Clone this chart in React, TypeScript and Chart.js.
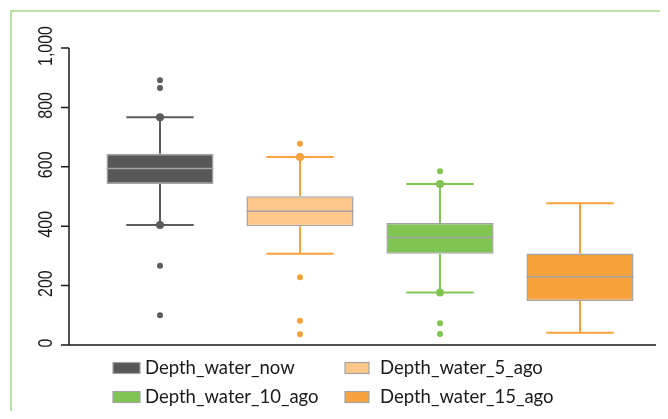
import React, { useEffect, useRef } from "react";
import { Chart, registerables } from "chart.js";
Chart.register(...registerables);

const categories = ["Depth_water_now", "Depth_water_5_ago", "Depth_water_10_ago", "Depth_water_15_ago"];
const q1 = [542, 400, 307, 148];
const median = [594, 450, 362, 230];
const q3 = [644, 501, 411, 308];
const whiskerLow = [404, 307, 177, 41];
const whiskerHigh = [767, 633, 542, 477];
const whiskerDots = [[767, 404], [633], [542, 177], []];
const outliers = [[891, 865, 267, 100], [678, 228, 82, 36], [585, 73, 37], []];
const yTicks = [0, 200, 400, 600, 800, 1000];
const yTickLabels = ["0", "200", "400", "600", "800", "1,000"];

const boxFill = ["#58585a", "#fdc68a", "#80c452", "#f7a23c"];
const lineColor = ["#5c5c5e", "#f7a23c", "#80c452", "#f7a23c"];
const boxBorder = "#a4a4a4";

const pointData: { x: string; y: number }[] = [];
const pointRadius: number[] = [];
const pointColor: string[] = [];
categories.forEach((c, i) => {
  whiskerDots[i].forEach((v) => {
    pointData.push({ x: c, y: v });
    pointRadius.push(4);
    pointColor.push(lineColor[i]);
  });
  outliers[i].forEach((v) => {
    pointData.push({ x: c, y: v });
    pointRadius.push(3);
    pointColor.push(lineColor[i]);
  });
});

const extras = {
  id: "boxExtras",
  beforeDraw(chart: any) {
    const ctx = chart.ctx;
    ctx.save();
    ctx.strokeStyle = "#a3d98a";
    ctx.lineWidth = 1.5;
    ctx.strokeRect(11, 11, 800, 600);
    ctx.restore();
  },
  beforeDatasetsDraw(chart: any) {
    const ctx = chart.ctx;
    const xs = chart.scales.x;
    const ys = chart.scales.y;
    const meta = chart.getDatasetMeta(0);
    ctx.save();
    categories.forEach((c, i) => {
      const x = xs.getPixelForValue(i);
      const bw = meta.data[i].width;
      const cap = bw * 0.63;
      ctx.strokeStyle = lineColor[i];
      ctx.lineWidth = 2;
      ctx.beginPath();
      ctx.moveTo(x, ys.getPixelForValue(whiskerLow[i]));
      ctx.lineTo(x, ys.getPixelForValue(q1[i]));
      ctx.moveTo(x, ys.getPixelForValue(q3[i]));
      ctx.lineTo(x, ys.getPixelForValue(whiskerHigh[i]));
      const yl = ys.getPixelForValue(whiskerLow[i]);
      const yh = ys.getPixelForValue(whiskerHigh[i]);
      ctx.moveTo(x - cap / 2, yl);
      ctx.lineTo(x + cap / 2, yl);
      ctx.moveTo(x - cap / 2, yh);
      ctx.lineTo(x + cap / 2, yh);
      ctx.stroke();
    });
    ctx.restore();
  },
  afterDatasetsDraw(chart: any) {
    const ctx = chart.ctx;
    const ys = chart.scales.y;
    const meta = chart.getDatasetMeta(0);
    ctx.save();
    ctx.strokeStyle = boxBorder;
    ctx.lineWidth = 1.5;
    categories.forEach((c, i) => {
      const bar = meta.data[i];
      const y = ys.getPixelForValue(median[i]);
      ctx.beginPath();
      ctx.moveTo(bar.x - bar.width / 2, y);
      ctx.lineTo(bar.x + bar.width / 2, y);
      ctx.stroke();
    });
    ctx.restore();
  },
  afterDraw(chart: any) {
    const ctx = chart.ctx;
    const ys = chart.scales.y;
    const area = chart.chartArea;
    ctx.save();
    ctx.strokeStyle = "#1a1a1a";
    ctx.lineWidth = 1.5;
    const axX = 69;
    ctx.beginPath();
    ctx.moveTo(axX, ys.getPixelForValue(1000));
    ctx.lineTo(axX, ys.getPixelForValue(0));
    ctx.moveTo(61, ys.getPixelForValue(0));
    ctx.lineTo(area.right + 6, ys.getPixelForValue(0));
    yTicks.forEach((t) => {
      const y = ys.getPixelForValue(t);
      ctx.moveTo(61, y);
      ctx.lineTo(axX, y);
    });
    ctx.stroke();
    ctx.fillStyle = "#1a1a1a";
    ctx.font = "16px 'Liberation Sans', Arial, sans-serif";
    ctx.textAlign = "center";
    ctx.textBaseline = "alphabetic";
    yTicks.forEach((t, k) => {
      const y = ys.getPixelForValue(t);
      ctx.save();
      ctx.translate(52, y - 2);
      ctx.rotate(-Math.PI / 2);
      ctx.scale(1, 1.32);
      ctx.fillText(yTickLabels[k], 0, 0);
      ctx.restore();
    });
    // legend
    const cols = [
      { bx: 113, bw: 27, tx: 145 },
      { bx: 345, bw: 24, tx: 380 },
    ];
    const rows = [368, 397];
    ctx.font = "18.5px Lato, sans-serif";
    ctx.textAlign = "left";
    ctx.textBaseline = "middle";
    categories.forEach((c, i) => {
      const col = cols[i % 2];
      const ry = rows[Math.floor(i / 2)];
      ctx.fillStyle = boxFill[i];
      ctx.fillRect(col.bx, ry - 5.5, col.bw, 11);
      ctx.strokeStyle = boxBorder;
      ctx.lineWidth = 1.2;
      ctx.strokeRect(col.bx, ry - 5.5, col.bw, 11);
      ctx.fillStyle = "#1a1a1a";
      ctx.fillText(c, col.tx, ry);
    });
    ctx.restore();
  },
};

export default function App() {
  const ref = useRef<HTMLCanvasElement>(null);
  useEffect(() => {
    if (!ref.current) return;
    const chart = new Chart(ref.current, {
      type: "bar",
      data: {
        labels: categories,
        datasets: [
          {
            type: "bar",
            data: categories.map((_, i) => [q1[i], q3[i]]) as any,
            backgroundColor: boxFill,
            borderColor: boxBorder,
            borderWidth: 1.5,
            borderSkipped: false,
            categoryPercentage: 1,
            barPercentage: 0.765,
            order: 2,
          } as any,
          {
            type: "line",
            data: pointData as any,
            showLine: false,
            pointRadius: pointRadius,
            pointBackgroundColor: pointColor,
            pointBorderColor: pointColor,
            pointBorderWidth: 0,
            order: 1,
          } as any,
        ],
      },
      options: {
        responsive: false,
        animation: false,
        layout: { padding: { left: 90, right: 18, top: 48, bottom: 74 } },
        plugins: { legend: { display: false }, tooltip: { enabled: false } },
        scales: {
          x: { type: "category", display: false, offset: true },
          y: { type: "linear", display: false, min: 0, max: 1000 },
        },
      },
      plugins: [extras],
    });
    return () => chart.destroy();
  }, []);
  return (
    <div style={{ margin: -8, width: 668, height: 419 }}>
      <canvas ref={ref} width={668} height={419} style={{ display: "block" }} />
    </div>
  );
}
